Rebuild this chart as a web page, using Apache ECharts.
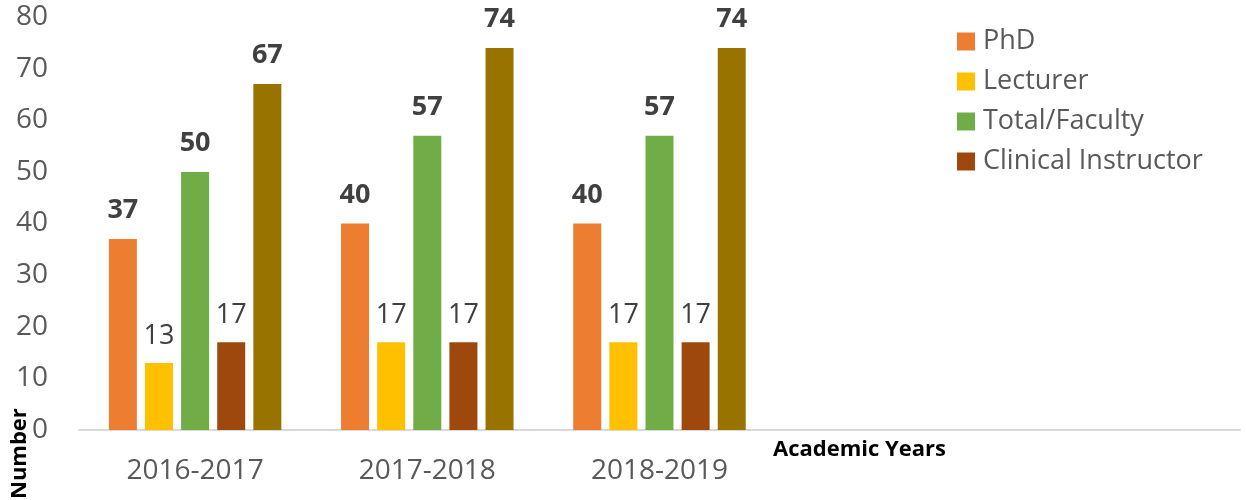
<!DOCTYPE html>
<html>
<head>
<meta charset="utf-8">
<script src="https://cdn.jsdelivr.net/npm/echarts@6/dist/echarts.min.js"></script>
<style>
html,body{margin:0;padding:0;background:#fff;}
#chart{width:1246px;height:500px;}
</style>
</head>
<body>
<div id="chart"></div>
<script>
const categories = ['2016-2017', '2017-2018', '2018-2019', '', ''];
const phd = [37, 40, 40];
const lecturer = [13, 17, 17];
const totalFaculty = [50, 57, 57];
const clinicalInstructor = [17, 17, 17];
const total = [67, 74, 74];
const legendNames = ['PhD', 'Lecturer', 'Total/Faculty', 'Clinical Instructor'];
const yTicks = { min: 0, max: 80, interval: 10 };

const FONT = '"Open Sans", sans-serif';
function bar(name, data, color, bold) {
  return {
    name: name, type: 'bar', data: data,
    barWidth: 28, barGap: '29%',
    itemStyle: { color: color },
    label: {
      show: true, position: 'top', distance: bold ? 15 : 13,
      fontFamily: FONT, fontSize: 27,
      fontWeight: bold ? 'bold' : 'normal',
      color: '#404040'
    }
  };
}

const chart = echarts.init(document.getElementById('chart'));
chart.setOption({
  animation: false,
  backgroundColor: '#fff',
  grid: { left: 79, right: 6, top: 17, bottom: 70, containLabel: false },
  legend: {
    data: legendNames,
    orient: 'vertical', left: 952, top: 23,
    itemWidth: 18, itemHeight: 18, itemGap: 13,
    icon: 'rect',
    textStyle: { fontFamily: FONT, fontSize: 27, color: '#595959', lineHeight: 27, padding: [0, 0, 0, 3] }
  },
  xAxis: {
    type: 'category', data: categories,
    axisLine: { lineStyle: { color: '#D9D9D9', width: 2 } },
    axisTick: { show: false },
    axisLabel: { fontFamily: FONT, fontSize: 28, color: '#595959', margin: 27 }
  },
  yAxis: {
    type: 'value', min: yTicks.min, max: yTicks.max, interval: yTicks.interval,
    splitLine: { show: false },
    axisLine: { show: false }, axisTick: { show: false },
    axisLabel: { fontFamily: FONT, fontSize: 28, color: '#595959', margin: 31 }
  },
  graphic: [
    { type: 'text', left: 773, top: 439,
      style: { text: 'Academic Years', fontFamily: FONT, fontSize: 22, fontWeight: 'bold', fill: '#000' } },
    { type: 'text', x: 9, y: 499, rotation: Math.PI / 2,
      style: { text: 'Number', fontFamily: FONT, fontSize: 22, fontWeight: 'bold', fill: '#000' } }
  ],
  series: [
    bar('PhD', phd, '#ED7D31', true),
    bar('Lecturer', lecturer, '#FFC000', false),
    bar('Total/Faculty', totalFaculty, '#70AD47', true),
    bar('Clinical Instructor', clinicalInstructor, '#9E480E', false),
    bar('Total', total, '#997300', true)
  ]
});
</script>
</body>
</html>
